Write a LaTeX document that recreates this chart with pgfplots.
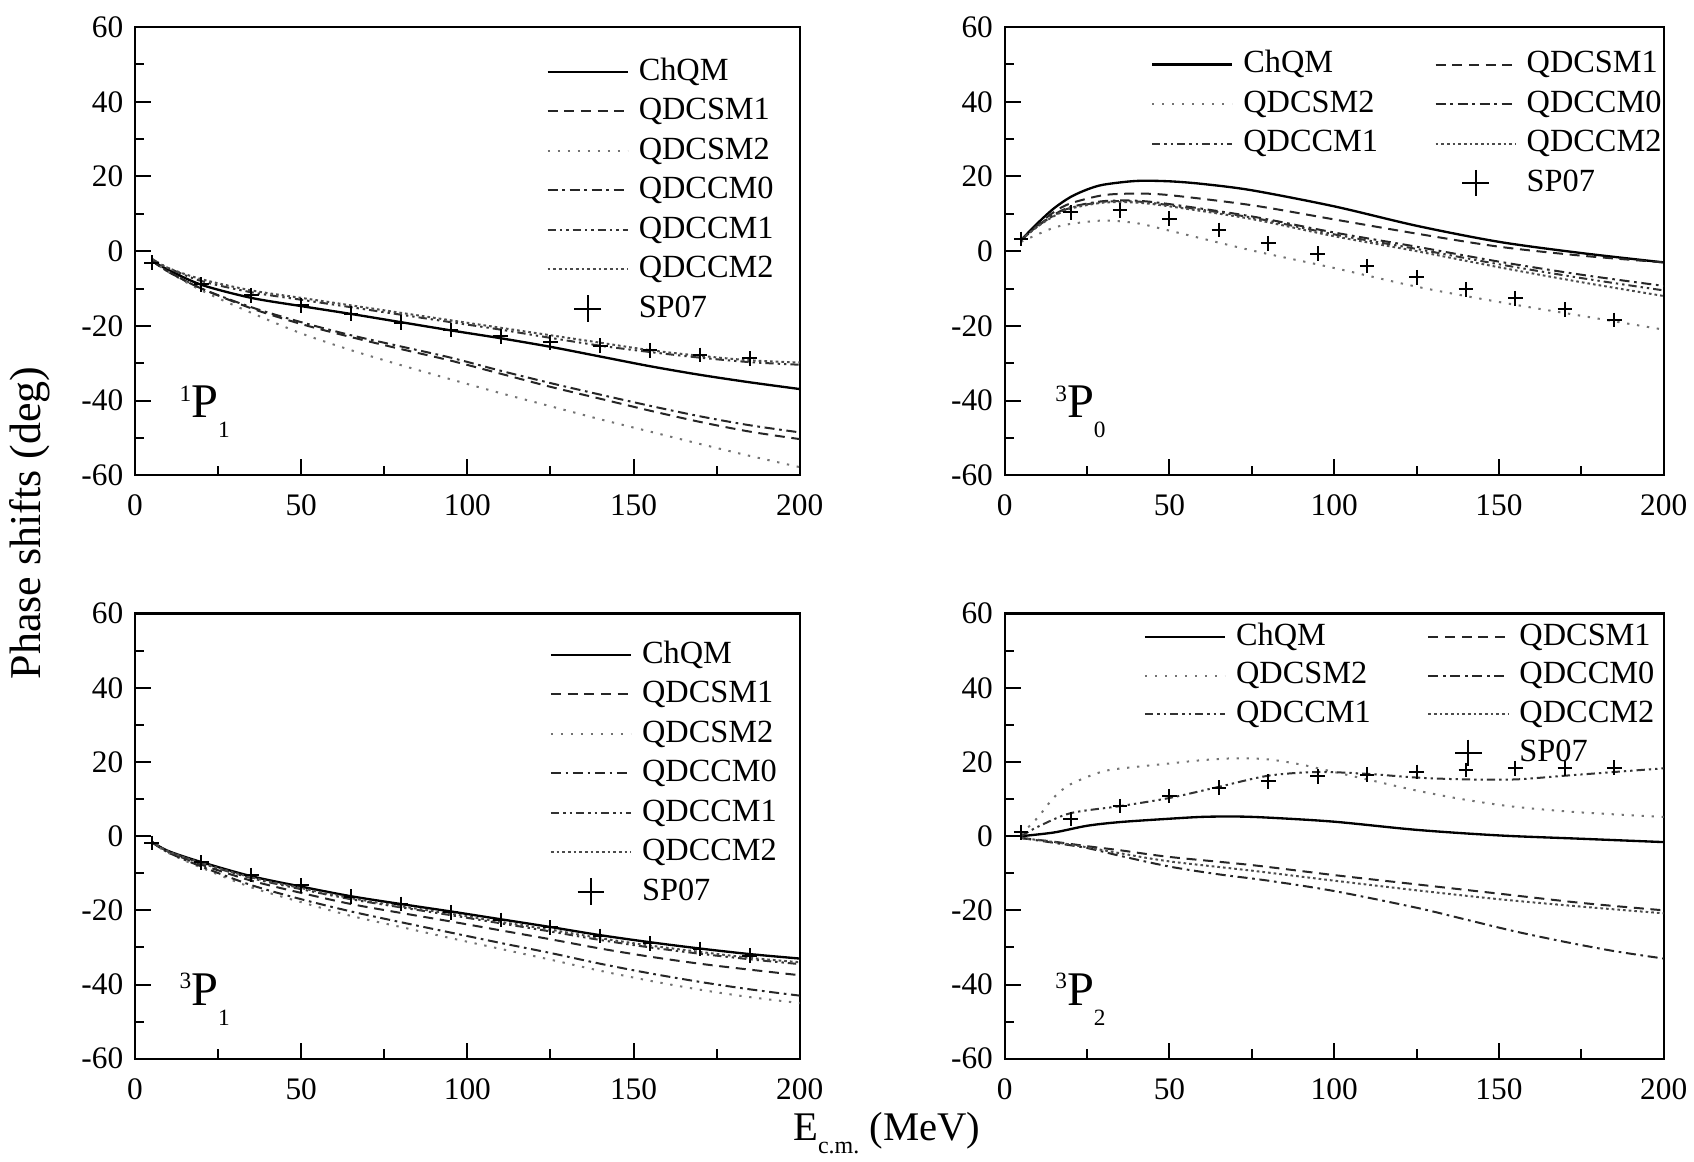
\documentclass[border=0pt]{standalone}
\usepackage{fontspec}
\setmainfont{Liberation Serif}
\usepackage{pgfplots}
\pgfplotsset{compat=1.18}

\newcommand{\tickfont}{\fontsize{9.4}{11}\selectfont}
\newcommand{\legfont}{\fontsize{9.7}{11}\selectfont}
\newcommand{\wave}[3]{\fontsize{14.5}{16}\selectfont\raisebox{0.75ex}{\fontsize{7}{8}\selectfont #1}#2\raisebox{-0.9ex}{\fontsize{7}{8}\selectfont #3}}

\tikzset{
 chqm/.style={black, line width=0.7pt, solid},
 sm1/.style={black!85, line width=0.6pt, dash pattern=on 3pt off 2pt},
 sm2/.style={black!55, line width=0.6pt, dash pattern=on 0.7pt off 2.3pt},
 cm0/.style={black!85, line width=0.6pt, dash pattern=on 3pt off 1.4pt on 0.8pt off 1.4pt},
 cm1/.style={black!80, line width=0.6pt, dash pattern=on 2.5pt off 1.2pt on 0.7pt off 1.2pt on 0.7pt off 1.2pt},
 cm2/.style={black!70, line width=0.6pt, dash pattern=on 0.8pt off 0.9pt},
}

\pgfplotsset{
 panel/.style={
  scale only axis, anchor=south west,
  xmin=0, xmax=200, ymin=-60, ymax=60,
  xtick={0,50,...,200}, ytick={-60,-40,...,60},
  minor x tick num=1, minor y tick num=1,
  tick align=inside, xtick pos=bottom, ytick pos=left,
  major tick length=4.8pt, minor tick length=2.8pt,
  axis line style={line width=0.7pt},
  every tick/.style={line width=0.6pt, black},
  tick label style={font=\tickfont},
  xticklabel style={yshift=-2.4pt},
  /pgf/number format/assume math mode=true,
  legend cell align=left,
  legend image code/.code={\draw[##1] (0pt,0pt) -- (24pt,0pt);},
  legend style={draw=none, fill=none, font=\legfont, inner sep=0pt,
    nodes={inner sep=0pt, text height=7pt, text depth=2pt},
    row sep=2.85pt,
    /tikz/every odd column/.append style={column sep=3pt},
    /tikz/every even column/.append style={column sep=17pt}},
 },
 sp/.style={only marks, mark=+, mark size=2.2pt, black, mark options={line width=0.6pt},
  legend image code/.code={\draw[line width=0.7pt] plot[mark=+, mark size=4pt] coordinates {(12pt,0pt)};}},
}

\begin{document}
\begin{tikzpicture}
\path[use as bounding box] (0,0) rectangle (508.2pt,348.3pt);

% ---------------- 1P1 ----------------
\begin{axis}[panel, at={(40.5pt,205.7pt)}, width=199.4pt, height=134.5pt,
  legend style={at={(0.618,0.935)}, anchor=north west}]
\addplot[chqm, smooth] coordinates {(5,-2.5) (10,-5) (20,-9) (35,-12.5) (50,-14.7) (65,-16.8) (80,-19) (95,-21.2) (110,-23.3) (125,-25.6) (140,-28.2) (155,-30.8) (170,-33.1) (185,-35.1) (200,-36.9)};
\addlegendentry{ChQM}
\addplot[sm1, smooth] coordinates {(5,-2.5) (10,-5.5) (20,-10) (35,-15.3) (50,-19.5) (65,-23) (80,-26.2) (95,-29.3) (110,-32.8) (125,-36.3) (140,-39.5) (155,-42.7) (170,-45.7) (185,-48.3) (200,-50.3)};
\addlegendentry{QDCSM1}
\addplot[sm2, smooth] coordinates {(5,-2.5) (10,-5.5) (20,-10.5) (35,-16.5) (50,-22) (65,-26.5) (80,-30.5) (95,-34.3) (110,-38) (125,-41.5) (140,-45) (155,-48.3) (170,-51.6) (185,-54.8) (200,-57.8)};
\addlegendentry{QDCSM2}
\addplot[cm0, smooth] coordinates {(5,-2.5) (10,-5.5) (20,-10) (35,-15) (50,-19) (65,-22.5) (80,-25.5) (95,-28.5) (110,-32) (125,-35.3) (140,-38.4) (155,-41.4) (170,-44.2) (185,-46.6) (200,-48.5)};
\addlegendentry{QDCCM0}
\addplot[cm1, smooth] coordinates {(5,-2) (10,-4.5) (20,-8) (35,-11) (50,-13) (65,-15) (80,-17) (95,-19) (110,-21) (125,-23.2) (140,-25.3) (155,-27) (170,-28.5) (185,-29.7) (200,-30.4)};
\addlegendentry{QDCCM1}
\addplot[cm2, smooth] coordinates {(5,-2) (10,-4.5) (20,-7.5) (35,-10.5) (50,-12.5) (65,-14.5) (80,-16.5) (95,-18.5) (110,-20.5) (125,-22.5) (140,-24.5) (155,-26.5) (170,-28) (185,-29.2) (200,-29.8)};
\addlegendentry{QDCCM2}
\addplot[sp] coordinates {(5,-3.1) (20,-8.9) (35,-11.8) (50,-14.5) (65,-16.7) (80,-19.1) (95,-21.1) (110,-22.8) (125,-24.4) (140,-25.3) (155,-26.5) (170,-27.8) (185,-28.7)};
\addlegendentry{SP07}
\node at (axis cs:21,-43) {\wave{1}{P}{1}};
\end{axis}

% ---------------- 3P0 ----------------
\begin{axis}[panel, at={(301.4pt,205.7pt)}, width=197.7pt, height=134.5pt,
  legend columns=2, legend style={at={(0.221,0.951)}, anchor=north west}]
\addplot[chqm, smooth] coordinates {(5,3) (10,7.5) (15,11.5) (20,14.5) (25,16.5) (30,17.8) (40,18.8) (50,18.7) (60,18) (75,16.3) (100,12) (125,6.8) (150,2.5) (175,-0.5) (200,-3)};
\addlegendentry{ChQM}
\addplot[sm1, smooth] coordinates {(5,3) (10,7) (15,10.5) (20,12.8) (30,15) (40,15.4) (50,15) (75,12.3) (100,8.5) (125,4.7) (150,1.2) (175,-1.2) (200,-3)};
\addlegendentry{QDCSM1}
\addplot[sm2, smooth] coordinates {(5,2.5) (10,4.5) (15,6.3) (20,7.3) (30,8.2) (40,7.5) (50,5.5) (75,0.2) (100,-4.5) (125,-9.5) (150,-13.6) (175,-17.3) (200,-21)};
\addlegendentry{QDCSM2}
\addplot[cm0, smooth] coordinates {(5,3) (10,6.8) (15,9.8) (20,11.8) (30,13.4) (40,13.5) (50,12.6) (75,9.3) (100,5) (125,1.2) (150,-2.8) (175,-6.3) (200,-9.3)};
\addlegendentry{QDCCM0}
\addplot[cm1, smooth] coordinates {(5,3) (10,6.7) (15,9.6) (20,11.6) (30,13.2) (40,13.3) (50,12.3) (75,9) (100,4.5) (125,0.6) (150,-3.5) (175,-7.2) (200,-10.5)};
\addlegendentry{QDCCM1}
\addplot[cm2, smooth] coordinates {(5,3) (10,6.6) (15,9.4) (20,11.4) (30,13) (40,13) (50,12) (75,8.6) (100,4) (125,0) (150,-4.3) (175,-8.3) (200,-12)};
\addlegendentry{QDCCM2}
\addlegendimage{empty legend}
\addlegendentry{}
\addplot[sp] coordinates {(5,3.3) (20,10.4) (35,10.9) (50,8.7) (65,5.7) (80,2.1) (95,-0.7) (110,-4) (125,-7) (140,-10.2) (155,-12.6) (170,-15.6) (185,-18.4)};
\addlegendentry{SP07}
\node at (axis cs:23,-43) {\wave{3}{P}{0}};
\end{axis}

% ---------------- 3P1 ----------------
\begin{axis}[panel, at={(40.5pt,30.7pt)}, width=199.4pt, height=133.5pt,
  legend style={at={(0.623,0.943)}, anchor=north west}]
\addplot[chqm, smooth] coordinates {(5,-1.5) (10,-4) (20,-7) (35,-10.8) (50,-13.6) (65,-16.2) (80,-18.3) (95,-20.3) (110,-22.4) (125,-24.5) (140,-26.7) (155,-28.6) (170,-30.3) (185,-31.8) (200,-33)};
\addlegendentry{ChQM}
\addplot[sm1, smooth] coordinates {(5,-1.5) (10,-4.2) (20,-7.7) (35,-12) (50,-15.3) (65,-18.3) (80,-20.7) (95,-23) (110,-25.4) (125,-27.8) (140,-30.3) (155,-32.5) (170,-34.4) (185,-36) (200,-37.5)};
\addlegendentry{QDCSM1}
\addplot[sm2, smooth] coordinates {(5,-1.6) (10,-4.5) (20,-8.5) (35,-13.8) (50,-17.8) (65,-21.5) (80,-24.5) (95,-27.5) (110,-30.4) (125,-33.3) (140,-36.3) (155,-39) (170,-41.4) (185,-43.4) (200,-45)};
\addlegendentry{QDCSM2}
\addplot[cm0, smooth] coordinates {(5,-1.6) (10,-4.4) (20,-8.2) (35,-13.2) (50,-17) (65,-20.3) (80,-23.2) (95,-26) (110,-28.8) (125,-31.5) (140,-34.4) (155,-37) (170,-39.3) (185,-41.3) (200,-43)};
\addlegendentry{QDCCM0}
\addplot[cm1, smooth] coordinates {(5,-1.5) (10,-4.1) (20,-7.3) (35,-11.3) (50,-14.3) (65,-17) (80,-19.2) (95,-21.3) (110,-23.5) (125,-25.7) (140,-28) (155,-30) (170,-31.7) (185,-33.2) (200,-34.5)};
\addlegendentry{QDCCM1}
\addplot[cm2, smooth] coordinates {(5,-1.5) (10,-4.1) (20,-7.2) (35,-11.1) (50,-14) (65,-16.7) (80,-18.9) (95,-20.9) (110,-23.1) (125,-25.2) (140,-27.5) (155,-29.5) (170,-31.2) (185,-32.8) (200,-34)};
\addlegendentry{QDCCM2}
\addplot[sp] coordinates {(5,-1.8) (20,-7.1) (35,-10.5) (50,-13.3) (65,-16.3) (80,-18.3) (95,-20.5) (110,-22.6) (125,-24.6) (140,-26.9) (155,-28.9) (170,-30.4) (185,-32.2)};
\addlegendentry{SP07}
\node at (axis cs:21,-44) {\wave{3}{P}{1}};
\end{axis}

% ---------------- 3P2 ----------------
\begin{axis}[panel, at={(301.4pt,30.7pt)}, width=197.7pt, height=133.5pt,
  legend columns=2, legend style={at={(0.21,0.983)}, anchor=north west, row sep=2.6pt}]
\addplot[chqm, smooth] coordinates {(5,0) (15,1) (25,2.8) (35,3.8) (50,4.7) (60,5.2) (70,5.3) (80,5) (100,3.9) (125,1.7) (150,0.2) (175,-0.7) (200,-1.6)};
\addlegendentry{ChQM}
\addplot[sm1, smooth] coordinates {(5,-0.5) (15,-1.5) (25,-2.7) (35,-3.8) (50,-5.6) (75,-7.8) (100,-10.5) (125,-13) (150,-15.5) (175,-18) (200,-20)};
\addlegendentry{QDCSM1}
\addplot[sm2, smooth] coordinates {(5,0.5) (10,5) (15,10.5) (20,14) (30,17.5) (40,18.7) (50,19.6) (60,20.5) (70,21) (80,20.7) (90,19.3) (100,17.3) (110,15.3) (125,12.3) (140,9.8) (155,7.9) (175,6.4) (200,5.2)};
\addlegendentry{QDCSM2}
\addplot[cm0, smooth] coordinates {(5,-0.5) (15,-1.8) (25,-3.2) (35,-5.3) (50,-8.2) (65,-10.3) (80,-12) (100,-14.8) (125,-19.3) (140,-22.5) (155,-25.7) (170,-28.5) (185,-31) (200,-33)};
\addlegendentry{QDCCM0}
\addplot[cm1, smooth] coordinates {(5,0) (10,2.5) (20,6.2) (35,8.1) (50,10.3) (65,13.3) (80,16.3) (95,17.3) (110,16.8) (125,15.8) (140,15.3) (155,15.3) (170,16.3) (185,17.3) (200,18.3)};
\addlegendentry{QDCCM1}
\addplot[cm2, smooth] coordinates {(5,-0.5) (15,-1.6) (25,-3) (35,-4.6) (50,-6.8) (75,-9.3) (100,-12) (125,-14.6) (150,-17) (175,-19) (200,-20.8)};
\addlegendentry{QDCCM2}
\addlegendimage{empty legend}
\addlegendentry{}
\addplot[sp] coordinates {(5,1) (20,4.6) (35,8.1) (50,10.8) (65,13.1) (80,14.8) (95,16.1) (110,16.6) (125,17.3) (140,17.8) (155,18.3) (170,18.3) (185,18.5)};
\addlegendentry{SP07}
\node at (axis cs:23,-44) {\wave{3}{P}{2}};
\end{axis}

\node[rotate=90, font=\fontsize{13.2}{15}\selectfont] at (9pt,191.4pt) {Phase shifts (deg)};
\node[anchor=base, font=\fontsize{12.2}{14}\selectfont] at (266pt,6.3pt) {E\raisebox{-4pt}{\fontsize{7.2}{8}\selectfont c.m.} (MeV)};
\end{tikzpicture}
\end{document}
